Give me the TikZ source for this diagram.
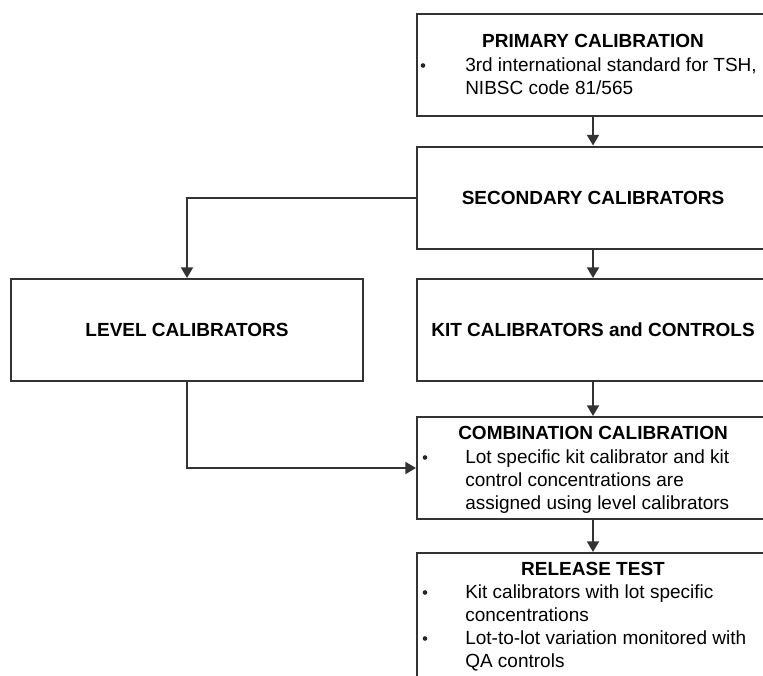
\documentclass[tikz,border=0pt]{standalone}
\usepackage{fontspec}
\setmainfont{Liberation Sans}
\usetikzlibrary{arrows.meta}

\tikzset{
  box/.style={draw=black!80, line width=1.5pt, fill=white, inner sep=0pt,
    minimum width=264pt, minimum height=76.5pt,
    font=\bfseries\fontsize{14.25pt}{17.25pt}\selectfont},
  flow/.style={draw=black!80, line width=1.5pt, -{Triangle[width=9pt,length=8pt]}},
  title/.style={anchor=base, inner sep=0pt, font=\bfseries\fontsize{14.25pt}{17.25pt}\selectfont},
  item/.style={anchor=base west, inner sep=0pt, align=left,
    font=\fontsize{14.25pt}{17.25pt}\selectfont},
  dot/.style={circle, fill=black!85, inner sep=0pt, minimum size=3.5pt},
}

\begin{document}
\begin{tikzpicture}[x=0.75pt, y=-0.75pt]
    \useasboundingbox (0,0) rectangle (763,675);
    \clip (0,0) rectangle (763,675);
    % boxes
    \node[box] (prim) at (593,65) {};
    \node[box] (sec) at (593,197.5) {SECONDARY CALIBRATORS};
    \node[box] (lvl) at (187,330) {LEVEL CALIBRATORS};
    \node[box] (kit) at (593,330) {KIT CALIBRATORS and CONTROLS};
    \node[box] (comb) at (593,468) {};
    \node[box, minimum height=105pt] (rel) at (593,623) {};
    % texts in the boxes (base = last line)
    \node[title] (primtitle) at (593,47) {PRIMARY CALIBRATION};
    \node[dot] (primdot) at (423,65.5) {};
    \node[item] (primitem) at (465,94) {3rd international standard for TSH,\\NIBSC code 81/565};
    \node[title] (combtitle) at (593,439) {COMBINATION CALIBRATION};
    \node[dot] (combdot) at (425,457.5) {};
    \node[item] (combitem) at (465,509) {Lot specific kit calibrator and kit\\control concentrations are\\assigned using level calibrators};
    \node[title] (reltitle) at (593,575) {RELEASE TEST};
    \node[dot] (reldota) at (425,592.5) {};
    \node[item] (relitema) at (465,621) {Kit calibrators with lot specific\\concentrations};
    \node[dot] (reldotb) at (425,638.5) {};
    \node[item] (relitemb) at (465,667) {Lot-to-lot variation monitored with\\QA controls};
    % connectors
    \draw[flow] (prim) -- (sec);
    \draw[flow] (sec.west) -| (lvl.north);
    \draw[flow] (sec) -- (kit);
    \draw[flow] (kit) -- (comb);
    \draw[flow] (lvl.south) |- (comb.west);
    \draw[flow] (comb) -- (rel);
\end{tikzpicture}
\end{document}
